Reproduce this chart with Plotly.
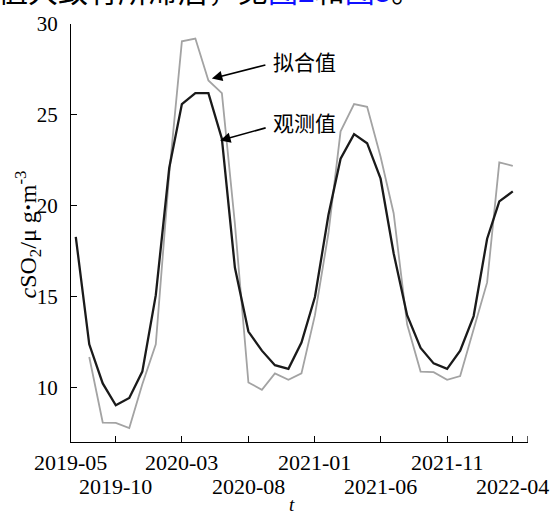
import pandas as pd
import plotly.graph_objects as go

# Monthly SO2 concentration, observed vs fitted (μg/m³)
obs_months = pd.date_range("2019-07-01", "2022-04-01", freq="MS")
observed = [18.3, 12.4, 10.25, 9.05, 9.45, 10.9, 15.1, 22.1, 25.6, 26.2, 26.2, 23.7,
            16.6, 13.1, 12.05, 11.25, 11.05, 12.5, 15.0, 19.5, 22.6, 23.95, 23.45, 21.5,
            17.4, 14.0, 12.2, 11.35, 11.05, 12.05, 13.95, 18.2, 20.25, 20.8]

fit_months = pd.date_range("2019-08-01", "2022-04-01", freq="MS")
fitted = [11.7, 8.1, 8.08, 7.8, 10.2, 12.4, 21.8, 29.05, 29.2, 26.9, 26.2,
          19.0, 10.3, 9.9, 10.8, 10.45, 10.8, 14.0, 18.5, 24.1, 25.6, 25.45, 22.7,
          19.6, 13.5, 10.9, 10.87, 10.45, 10.65, 13.2, 15.8, 22.4, 22.2]

tick_dates = ["2019-10-01", "2020-03-01", "2020-08-01", "2021-01-01",
              "2021-06-01", "2021-11-01", "2022-04-01"]
tick_text = ["2019-10", "2020-03", "2020-08", "2021-01", "2021-06", "2021-11", "2022-04"]
first_label = "2019-05"
y_ticks = [10, 15, 20, 25, 30]

x_range = ["2019-06-20", "2022-05-06"]
y_range = [7.03, 30]

W, H = 558, 518
ML, MR, MT, MB = 71, 30, 17, 76
PW, PH = W - ML - MR, H - MT - MB


def px_to_paper_y(py):
    return (H - MB - py) / PH


def px_to_paper_x(px):
    return (px - ML) / PW


SERIF = "Liberation Serif, Times New Roman, serif"
CJK = "Noto Sans CJK SC"

fig = go.Figure()
fig.add_trace(go.Scatter(x=fit_months, y=fitted, mode="lines", name="拟合值",
                         line=dict(color="#a3a3a3", width=1.8), hoverinfo="skip"))
fig.add_trace(go.Scatter(x=obs_months, y=observed, mode="lines", name="观测值",
                         line=dict(color="#1a1a1a", width=2.3), hoverinfo="skip"))

annotations = []
# staggered date labels under the axis
for i, (d, t) in enumerate(zip(tick_dates, tick_text)):
    row_y = 487 if i % 2 == 0 else 463
    annotations.append(dict(x=d, xref="x", y=px_to_paper_y(row_y), yref="paper",
                            text=t, showarrow=False, xanchor="center", yanchor="middle",
                            font=dict(family=SERIF, size=22, color="black")))
annotations.append(dict(x=px_to_paper_x(70), xref="paper", y=px_to_paper_y(463), yref="paper",
                        text=first_label, showarrow=False, xanchor="center", yanchor="middle",
                        font=dict(family=SERIF, size=22, color="black")))
# axis titles
annotations.append(dict(x=px_to_paper_x(292), xref="paper", y=px_to_paper_y(506), yref="paper",
                        text="<i>t</i>", showarrow=False, xanchor="center", yanchor="middle",
                        font=dict(family=SERIF, size=19, color="black")))
annotations.append(dict(x=px_to_paper_x(28), xref="paper", y=px_to_paper_y(231), yref="paper",
                        text="<i>c</i>SO<sub>2</sub>/μ g<b>·</b>m<sup>-3</sup>", textangle=-90,
                        showarrow=False, xanchor="center", yanchor="middle",
                        font=dict(family=SERIF, size=24, color="black")))
# series labels with pointer arrows
annotations.append(dict(x=px_to_paper_x(304), xref="paper", y=px_to_paper_y(55), yref="paper",
                        text="拟合值", showarrow=False, xanchor="center", yanchor="middle",
                        font=dict(family=CJK, size=21, color="black")))
annotations.append(dict(x=px_to_paper_x(304), xref="paper", y=px_to_paper_y(117), yref="paper",
                        text="观测值", showarrow=False, xanchor="center", yanchor="middle",
                        font=dict(family=CJK, size=21, color="black")))
annotations.append(dict(x="2020-05-09", xref="x", y=27.0, yref="y", text="",
                        showarrow=True, arrowhead=2, arrowsize=1.3, arrowwidth=1.6,
                        arrowcolor="black", ax=55, ay=-14, axref="pixel", ayref="pixel"))
annotations.append(dict(x="2020-05-28", xref="x", y=23.6, yref="y", text="",
                        showarrow=True, arrowhead=2, arrowsize=1.3, arrowwidth=1.6,
                        arrowcolor="black", ax=47, ay=-13, axref="pixel", ayref="pixel"))
# running body text above the figure
annotations.append(dict(x=px_to_paper_x(423), xref="paper", y=px_to_paper_y(-19), yref="paper",
                        text="值大致有所滞后，见<span style='color:#1010ff'>图2</span>和"
                             "<span style='color:#1010ff'>图3</span>。",
                        showarrow=False, xanchor="right", yanchor="middle",
                        font=dict(family=CJK, size=30, color="black")))

shapes = [dict(type="line", xref="x", yref="paper", x0=x_range[1], x1=x_range[1],
               y0=0, y1=6 / PH, line=dict(color="black", width=1.3))]

fig.update_layout(
    width=W, height=H,
    margin=dict(l=ML, r=MR, t=MT, b=MB, pad=0),
    paper_bgcolor="white", plot_bgcolor="white",
    showlegend=False,
    annotations=annotations,
    shapes=shapes,
    xaxis=dict(type="date", range=x_range, tickvals=tick_dates, ticktext=[""] * len(tick_dates),
               showticklabels=False, ticks="inside", ticklen=6, tickwidth=1.3, tickcolor="black",
               showline=True, linecolor="black", linewidth=1.3, showgrid=False, zeroline=False,
               mirror=False),
    yaxis=dict(range=y_range, tickvals=y_ticks, ticks="inside", ticklen=6, tickwidth=1.3,
               tickcolor="black", showline=True, linecolor="black", linewidth=1.3,
               showgrid=False, zeroline=False, mirror=False, ticklabelstandoff=8,
               tickfont=dict(family=SERIF, size=21, color="black")),
)

fig.write_html("out.html")
